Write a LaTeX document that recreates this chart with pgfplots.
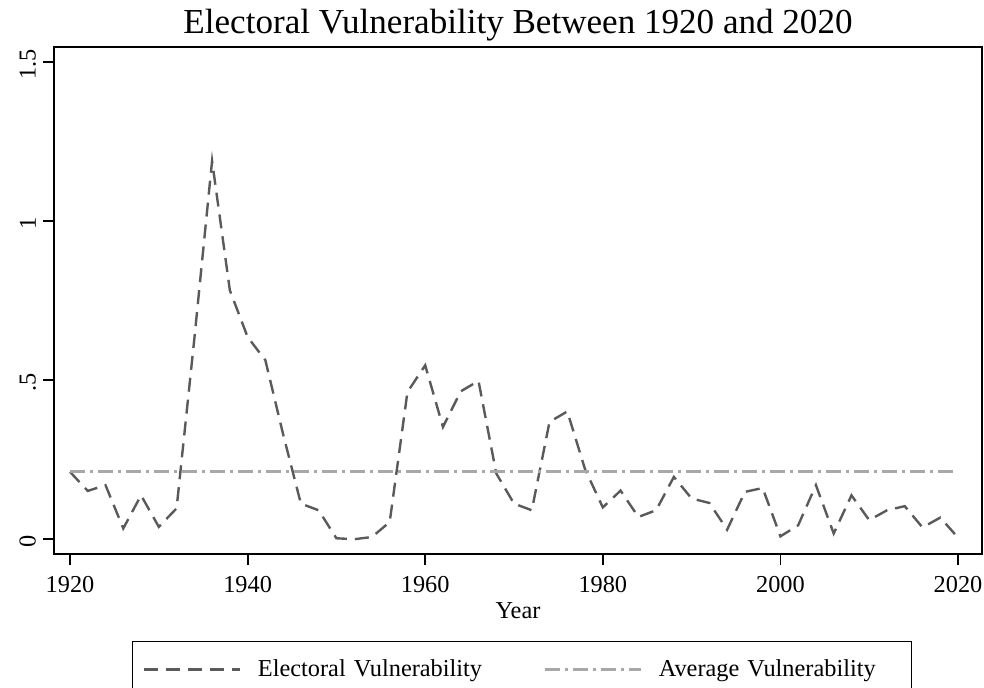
\documentclass[border=0pt]{standalone}
\usepackage{pgfplots}
\pgfplotsset{compat=1.18}
\usepackage{fontspec}
\setmainfont{Liberation Serif}
\definecolor{evline}{HTML}{5A5A5A}
\definecolor{avgline}{HTML}{A8A8A8}
\begin{document}
\begin{tikzpicture}
\begin{axis}[
  scale only axis,
  width=463.85bp, height=253.65bp,
  xmin=1918.2, xmax=2022.7,
  ymin=-0.047, ymax=1.549,
  axis line style={line width=1bp, black},
  tick align=outside,
  xtick pos=bottom, ytick pos=left,
  major tick length=5.5bp,
  every tick/.style={black, line width=0.9bp},
  xtick={1920,1940,1960,1980,2000,2020},
  xticklabels={1920,1940,1960,1980,2000,2020},
  ytick={0,0.5,1,1.5},
  yticklabels={0,.5,1,1.5},
  tick label style={font=\fontsize{12.2}{14}\selectfont},
  xticklabel style={yshift=-2bp},
  yticklabel style={rotate=90, anchor=south, xshift=-1bp},
  /pgf/number format/assume math mode=true,
  xlabel={Year},
  xlabel style={font=\fontsize{12.2}{14}\selectfont, at={(axis description cs:0.5,0)}, anchor=north, yshift=-20.5bp},
  every axis title shift=0pt,
  title={Electoral Vulnerability Between 1920 and 2020},
  title style={font=\fontsize{17.6}{20}\selectfont, at={(axis description cs:0.5,1)}, anchor=base, yshift=6.4bp},
  legend columns=2,
  legend cell align=left,
  legend style={
    at={(axis description cs:0,0)}, anchor=north west,
    xshift=38.85bp, yshift=-43.35bp,
    draw=black, line width=0.8bp,
    inner xsep=5bp, inner ysep=5bp,
    font=\fontsize{12.2}{14}\selectfont,
    nodes={inner xsep=0bp, inner ysep=4bp, text width=121.35bp, align=left},
    /tikz/every odd column/.append style={column sep=8.5bp},
    /tikz/every even column/.append style={column sep=21.3bp},
  },
  legend image code/.code={\draw[#1] (0bp,0bp) -- (48bp,0bp);},
]
\addplot[evline, line width=1.2bp, dash pattern=on 7bp off 4bp] coordinates {
(1920,0.212) (1922,0.152) (1924,0.170) (1926,0.034) (1928,0.138) (1930,0.039)
(1932,0.097) (1934,0.63) (1936,1.19) (1938,0.783) (1940,0.636) (1942,0.563)
(1944,0.33) (1946,0.112) (1948,0.091) (1950,0.003) (1952,0.0) (1954,0.007)
(1956,0.054) (1958,0.463) (1960,0.547) (1962,0.353) (1964,0.465) (1966,0.498)
(1968,0.207) (1970,0.112) (1972,0.091) (1974,0.369) (1976,0.402) (1978,0.22)
(1980,0.10) (1982,0.153) (1984,0.07) (1986,0.091) (1988,0.196) (1990,0.128)
(1992,0.114) (1994,0.03) (1996,0.149) (1998,0.161) (2000,0.009) (2002,0.044)
(2004,0.17) (2006,0.018) (2008,0.138) (2010,0.06) (2012,0.091) (2014,0.104)
(2016,0.037) (2018,0.068) (2020,0.005)
};
\addlegendentry{Electoral Vulnerability}
\addplot[avgline, line width=1.2bp, dash pattern=on 7.5bp off 2.5bp on 1.5bp off 2.5bp] coordinates {
(1920,0.213) (2020,0.213)
};
\addlegendentry{Average Vulnerability}
\end{axis}
\pgfresetboundingbox
\path (-27bp,-66.5bp) rectangle (464.85bp,277bp);
\end{tikzpicture}
\end{document}
